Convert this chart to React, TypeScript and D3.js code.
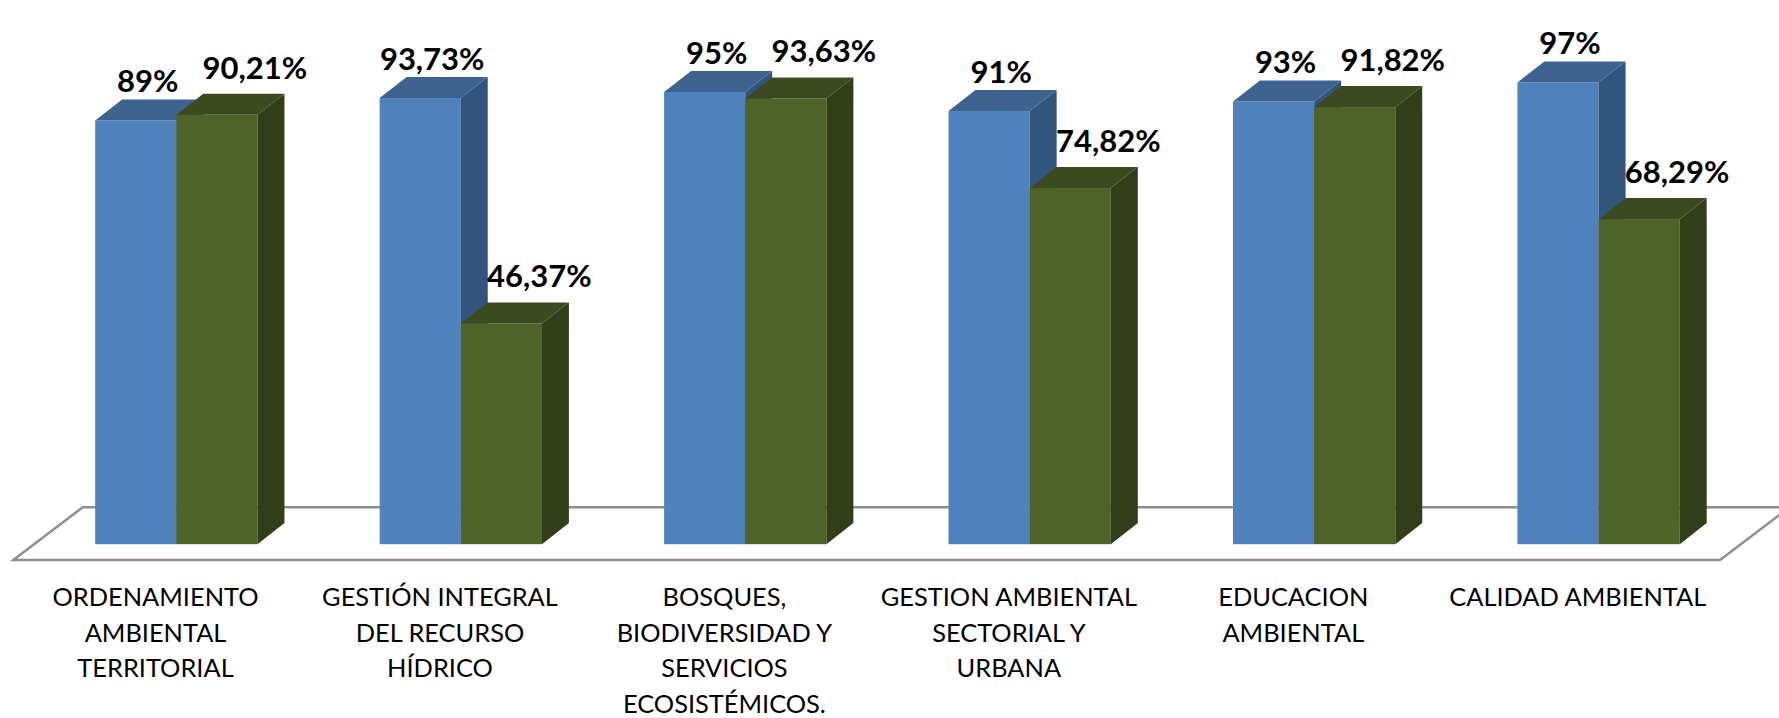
import * as d3 from "d3";

// values
const categories = [
  "ORDENAMIENTO\nAMBIENTAL\nTERRITORIAL",
  "GESTIÓN INTEGRAL\nDEL RECURSO\nHÍDRICO",
  "BOSQUES,\nBIODIVERSIDAD Y\nSERVICIOS\nECOSISTÉMICOS.",
  "GESTION AMBIENTAL\nSECTORIAL Y\nURBANA",
  "EDUCACION\nAMBIENTAL",
  "CALIDAD AMBIENTAL",
];
const seriesA = [89, 93.73, 95, 91, 93, 97];
const seriesB = [90.21, 46.37, 93.63, 74.82, 91.82, 68.29];
const yDomain = [0, 100];

const W = 1779;
const H = 718;

// floor (3D base plane)
const floorFront = 560;
const floorLeft = 13.3;
const floorRight = 1720;
const floorDx = 69.4;
const floorDy = 52.7;
// bars sit between 30% and 70% of the floor depth
const barOffX = floorDx * 0.3;
const barOffY = floorDy * 0.3;
const depthX = floorDx * 0.4 - 0.8;
const depthY = floorDy * 0.4;

const series = [
  { values: seriesA, front: "#4f81bd", top: "#3e6390", side: "#33547d", dx: 12, gap: 7 },
  { values: seriesB, front: "#4f6228", top: "#3c4a1f", side: "#323e19", dx: 38, gap: 15 },
];

const fmt = (v: number) =>
  (Number.isInteger(v) ? String(v) : v.toFixed(2).replace(".", ",")) + "%";

export default function App() {
  const base = floorFront - barOffY;
  const y = d3.scaleLinear().domain(yDomain).range([base, base - 476]);

  const x0 = d3
    .scaleBand<number>()
    .domain(d3.range(categories.length))
    .range([floorLeft + barOffX, floorRight + barOffX])
    .paddingInner(0.4294)
    .paddingOuter(0.2147);
  const x1 = d3
    .scaleBand<number>()
    .domain(d3.range(series.length))
    .range([0, x0.bandwidth()]);

  const labelBand = d3
    .scaleBand<number>()
    .domain(d3.range(categories.length))
    .range([floorLeft, floorRight]);

  const floorPts: [number, number][] = [
    [floorLeft, floorFront],
    [floorRight, floorFront],
    [floorRight + floorDx, floorFront - floorDy],
    [floorLeft + floorDx, floorFront - floorDy],
  ];
  const poly = (pts: [number, number][]) => "M" + pts.map((p) => p.join(",")).join("L") + "Z";

  return (
    <svg
      width={W}
      height={H}
      style={{ position: "absolute", left: 0, top: 0, background: "#fff" }}
    >
      <path d={poly(floorPts)} fill="#fff" stroke="#8e8e8e" strokeWidth={2.5} strokeLinejoin="miter" />

      {categories.map((_, i) => (
        <g key={i}>
          {series.map((s, j) => {
            const bx = x0(i)! + x1(j)!;
            const bw = x1.bandwidth();
            const yt = y(s.values[i]);
            const yb = y(0);
            return (
              <g key={j}>
                <rect x={bx} y={yt} width={bw} height={yb - yt} fill={s.front} />
                <path
                  d={poly([
                    [bx, yt],
                    [bx + bw, yt],
                    [bx + bw + depthX, yt - depthY],
                    [bx + depthX, yt - depthY],
                  ])}
                  fill={s.top}
                />
                <path
                  d={poly([
                    [bx + bw, yt],
                    [bx + bw + depthX, yt - depthY],
                    [bx + bw + depthX, yb - depthY],
                    [bx + bw, yb],
                  ])}
                  fill={s.side}
                />
              </g>
            );
          })}
        </g>
      ))}

      {categories.map((_, i) => (
        <g key={"l" + i}>
          {series.map((s, j) => {
            const bx = x0(i)! + x1(j)!;
            const cx = bx + x1.bandwidth() / 2 + s.dx;
            const yt = y(s.values[i]) - depthY - s.gap;
            return (
              <text
                key={j}
                x={cx}
                y={yt}
                textAnchor="middle"
                fontFamily="Lato, 'Noto Sans', sans-serif"
                fontWeight={700}
                fontSize={31}
                fill="#000"
              >
                {fmt(s.values[i])}
              </text>
            );
          })}
        </g>
      ))}

      {categories.map((c, i) => (
        <text
          key={"c" + i}
          x={labelBand(i)! + labelBand.bandwidth() / 2}
          y={606}
          textAnchor="middle"
          fontFamily="Lato, 'Noto Sans', sans-serif"
          fontSize={25.4}
          fill="#000"
        >
          {c.split("\n").map((line, k) => (
            <tspan key={k} x={labelBand(i)! + labelBand.bandwidth() / 2} dy={k === 0 ? 0 : 35.7}>
              {line}
            </tspan>
          ))}
        </text>
      ))}
    </svg>
  );
}
